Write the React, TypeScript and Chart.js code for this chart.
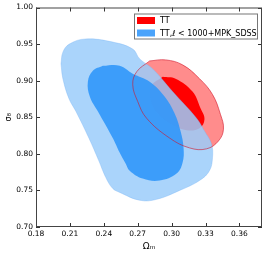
import React, { useEffect, useRef } from 'react';
import { Chart, registerables } from 'chart.js';

Chart.register(...registerables);

// Axes
const xMin = 0.18;
const xMax = 0.38;
const yMin = 0.7;
const yMax = 1.0;
const xTicks = [0.18, 0.21, 0.24, 0.27, 0.3, 0.33, 0.36];
const yTicks = [0.7, 0.75, 0.8, 0.85, 0.9, 0.95, 1.0];
const xTitle = 'Ωₘ';
const yTitle = 'σ₈';

// Legend labels
const seriesLabels = ['TT', 'TT,ℓ < 1000+MPK_SDSS'];

// TT contours (Omega_m, sigma_8)
const ttOuterOmega = [0.2806, 0.2947, 0.3097, 0.3247, 0.3362, 0.3432, 0.3459, 0.3415, 0.3309, 0.3159, 0.2982, 0.2779, 0.27, 0.2656, 0.2691];
const ttOuterSigma = [0.927, 0.9284, 0.9216, 0.9027, 0.8811, 0.8541, 0.8338, 0.8176, 0.8068, 0.8081, 0.8216, 0.8486, 0.8716, 0.8946, 0.9122];
const ttInnerOmega = [0.2921, 0.3035, 0.3185, 0.3256, 0.3291, 0.3247, 0.3132, 0.3, 0.2876, 0.2815, 0.2824];
const ttInnerSigma = [0.9054, 0.9027, 0.8851, 0.8622, 0.8473, 0.8351, 0.8324, 0.8405, 0.8554, 0.8743, 0.8932];

// TT, l<1000 + MPK_SDSS contours
const mpkOuterOmega = [0.2021, 0.2038, 0.2095, 0.224, 0.248, 0.2656, 0.2718, 0.2832, 0.3009, 0.3221, 0.3291, 0.3353, 0.3362, 0.3335, 0.3247, 0.3071, 0.2868, 0.2718, 0.2541, 0.2479, 0.2418, 0.2356, 0.2268, 0.2153, 0.2091, 0.2038];
const mpkOuterSigma = [0.923, 0.939, 0.95, 0.957, 0.9527, 0.9432, 0.9297, 0.9162, 0.8851, 0.8486, 0.8311, 0.8135, 0.7946, 0.777, 0.7635, 0.75, 0.7378, 0.7365, 0.7473, 0.7527, 0.7676, 0.7905, 0.8216, 0.8581, 0.8757, 0.9027];
const mpkInnerOmega = [0.2391, 0.2541, 0.2656, 0.2806, 0.2938, 0.3026, 0.3079, 0.3106, 0.3097, 0.3044, 0.2894, 0.2744, 0.2629, 0.2594, 0.2541, 0.2479, 0.2347, 0.2276, 0.2259, 0.2303];
const mpkInnerSigma = [0.9203, 0.9203, 0.9095, 0.8986, 0.8784, 0.8554, 0.8311, 0.8081, 0.7878, 0.773, 0.7635, 0.7662, 0.777, 0.7865, 0.8014, 0.8216, 0.8581, 0.8784, 0.8986, 0.9135];

const closed = (xs: number[], ys: number[]) => {
  const p = xs.map((x, i) => ({ x, y: ys[i] }));
  p.push({ ...p[0] });
  return p;
};

const framePlugin = {
  id: 'frameTicks',
  afterDraw(chart: any) {
    const { ctx, chartArea } = chart;
    const { left, right, top, bottom } = chartArea;
    const xs = chart.scales.x;
    const ys = chart.scales.y;
    ctx.save();
    ctx.strokeStyle = '#333';
    ctx.lineWidth = 1;
    ctx.beginPath();
    const L = 4;
    xTicks.forEach((v) => {
      const px = Math.round(xs.getPixelForValue(v)) + 0.5;
      ctx.moveTo(px, bottom);
      ctx.lineTo(px, bottom - L);
      ctx.moveTo(px, top);
      ctx.lineTo(px, top + L);
    });
    yTicks.forEach((v) => {
      const py = Math.round(ys.getPixelForValue(v)) + 0.5;
      ctx.moveTo(left, py);
      ctx.lineTo(left + L, py);
      ctx.moveTo(right, py);
      ctx.lineTo(right - L, py);
    });
    ctx.stroke();
    ctx.strokeStyle = '#444';
    ctx.strokeRect(left + 0.5, top + 0.5, right - left - 1, bottom - top - 1);
    ctx.restore();
  },
};

const legendPlugin = {
  id: 'boxLegend',
  afterDatasetsDraw(chart: any) {
    const { ctx, chartArea } = chart;
    const x1 = chartArea.right - 4;
    const x0 = chartArea.left + 98;
    const y0 = chartArea.top + 6;
    const h = 26;
    ctx.save();
    ctx.fillStyle = 'rgba(255,255,255,0.9)';
    ctx.fillRect(x0, y0, x1 - x0, h);
    ctx.strokeStyle = '#777';
    ctx.lineWidth = 1;
    ctx.strokeRect(x0 + 0.5, y0 + 0.5, x1 - x0 - 1, h - 1);
    const swatches = ['#ff0000', '#4aa3fb'];
    ctx.font = '8px "DejaVu Sans"';
    ctx.textBaseline = 'middle';
    seriesLabels.forEach((lab, i) => {
      const cy = y0 + 7 + i * 12.5;
      ctx.fillStyle = swatches[i];
      ctx.fillRect(x0 + 3, cy - 3.5, 18, 7);
      ctx.fillStyle = '#000';
      ctx.fillText(lab, x0 + 26, cy + 0.5);
    });
    ctx.restore();
  },
};

export default function App() {
  const ref = useRef<HTMLCanvasElement | null>(null);
  useEffect(() => {
    if (!ref.current) return;
    Chart.defaults.font.family = '"DejaVu Sans", sans-serif';
    const common = { showLine: true, pointRadius: 0, pointHoverRadius: 0, tension: 0.4 };
    const chart = new Chart(ref.current, {
      type: 'scatter',
      data: {
        datasets: [
          { ...common, label: 'TT outline', data: closed(ttOuterOmega, ttOuterSigma), fill: false, borderColor: 'rgba(210,20,40,0.75)', borderWidth: 0.8, order: 0 },
          { ...common, label: seriesLabels[1] + ' 68', data: closed(mpkInnerOmega, mpkInnerSigma), fill: 'shape', backgroundColor: 'rgba(45,150,250,0.88)', borderColor: 'rgba(0,0,0,0)', borderWidth: 0, order: 1 },
          { ...common, label: seriesLabels[1] + ' 95', data: closed(mpkOuterOmega, mpkOuterSigma), fill: 'shape', backgroundColor: 'rgba(155,205,250,0.85)', borderColor: 'rgba(120,180,245,0.6)', borderWidth: 0.6, order: 2 },
          { ...common, label: seriesLabels[0] + ' 68', data: closed(ttInnerOmega, ttInnerSigma), fill: 'shape', backgroundColor: 'rgba(255,0,0,1)', borderColor: 'rgba(0,0,0,0)', borderWidth: 0, order: 3 },
          { ...common, label: seriesLabels[0] + ' 95', data: closed(ttOuterOmega, ttOuterSigma), fill: 'shape', backgroundColor: 'rgba(255,0,0,0.45)', borderColor: 'rgba(0,0,0,0)', borderWidth: 0, order: 4 },
        ] as any,
      },
      options: {
        animation: false,
        responsive: false,
        devicePixelRatio: 1,
        events: [],
        layout: { padding: { top: 5, right: 4, left: 0, bottom: 0 } },
        plugins: { legend: { display: false }, tooltip: { enabled: false } },
        scales: {
          x: {
            type: 'linear',
            min: xMin,
            max: xMax,
            grid: { display: false, drawTicks: false, tickLength: 0 },
            border: { display: false },
            afterBuildTicks: (s: any) => { s.ticks = xTicks.map((v) => ({ value: v })); },
            afterFit: (s: any) => { s.height = 29; },
            ticks: { autoSkip: false, maxRotation: 0, padding: 3, color: '#000', font: { size: 7.5 }, callback: (v: any) => Number(v).toFixed(2) },
            title: { display: true, text: xTitle, color: '#000', font: { size: 9 }, padding: { top: 0, bottom: 4 } },
          },
          y: {
            type: 'linear',
            min: yMin,
            max: yMax,
            grid: { display: false, drawTicks: false, tickLength: 0 },
            border: { display: false },
            afterBuildTicks: (s: any) => { s.ticks = yTicks.map((v) => ({ value: v })); },
            afterFit: (s: any) => { s.width = 36; },
            ticks: { autoSkip: false, padding: 3, color: '#000', font: { size: 7.5 }, callback: (v: any) => Number(v).toFixed(2) },
            title: { display: true, text: yTitle, color: '#000', font: { size: 8 }, padding: { top: 4, bottom: 0 } },
          },
        },
      } as any,
      plugins: [framePlugin, legendPlugin],
    });
    return () => chart.destroy();
  }, []);
  return (
    <div style={{ position: 'fixed', left: 0, top: 0, width: 266, height: 256, background: '#fff' }}>
      <canvas ref={ref} width={266} height={256} style={{ display: 'block' }} />
    </div>
  );
}
